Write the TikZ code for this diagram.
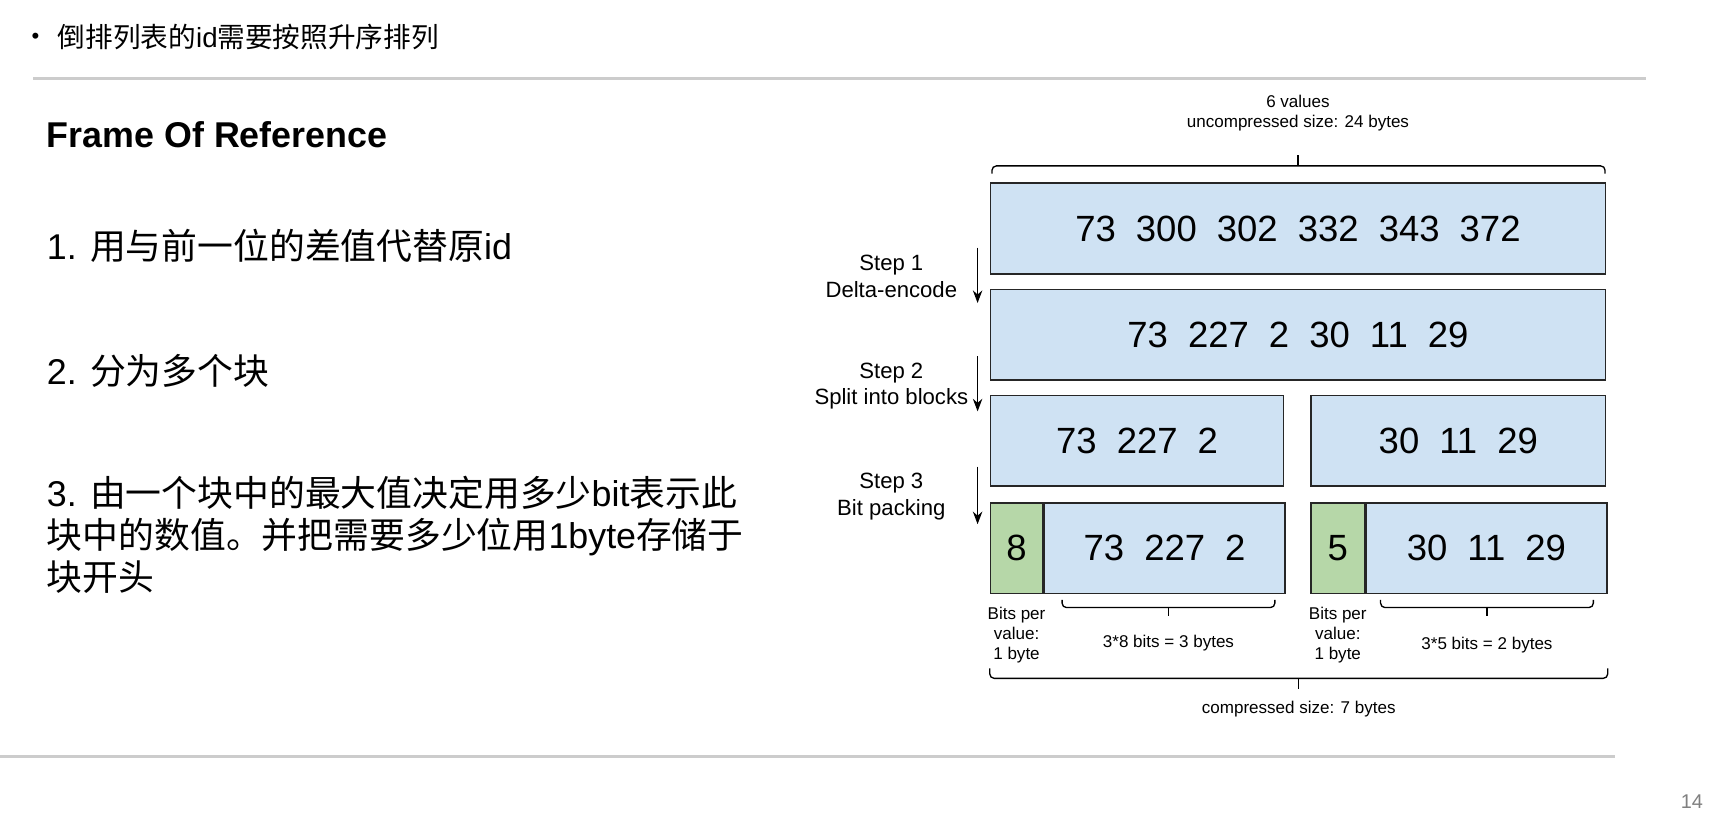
\documentclass[tikz,border=0pt]{standalone}
\usepackage{fontspec}
\setmainfont{Liberation Sans}
\newfontfamily\cjk{Noto Sans CJK SC}
\usetikzlibrary{arrows.meta,positioning,calc}

\definecolor{boxblue}{HTML}{CFE2F3}
\definecolor{boxgreen}{HTML}{B6D7A8}
\definecolor{rulegray}{HTML}{CCCCCC}
\newcommand\gap{\hspace{0.55em}}

\tikzset{
  valbox/.style={draw=black!85, line width=0.7pt, fill=boxblue, inner sep=0pt,
    minimum height=41pt, anchor=north west, font=\fontsize{16.5}{18}\selectfont},
  bitbox/.style={valbox, fill=boxgreen},
  steplbl/.style={align=center, font=\fontsize{10}{12}\selectfont},
  smalllbl/.style={align=center, font=\fontsize{7.7}{9}\selectfont},
  bracket/.style={line width=0.6pt, rounded corners=2pt},
  bodytxt/.style={anchor=west, align=left, inner sep=0pt, font=\fontsize{16.2}{19}\selectfont},
}

\begin{document}
\begin{tikzpicture}[x=0.5pt,y=-0.5pt,>=Stealth]
\useasboundingbox (0,0) rectangle (1568,741);
\fill[white] (0,0) rectangle (1568,741);

% slide text
\node[inner sep=0pt, font=\fontsize{10}{12}\selectfont] (bullet) at (32,35) {•};
\node[bodytxt, font=\fontsize{12.5}{14}\selectfont] (head) at (52,33) {{\cjk 倒排列表的}id{\cjk 需要按照升序排列}};
\draw[rulegray, line width=1pt] (30,71) -- (1488,71);
\node[bodytxt, font=\bfseries\fontsize{16.2}{19}\selectfont] (title) at (42,122) {Frame Of Reference};
\node[bodytxt] (item1) at (42,222) {1. {\cjk 用与前一位的差值代替原}id};
\node[bodytxt] (item2) at (42,335) {2. {\cjk 分为多个块}};
\node[bodytxt] (item3) at (42,484) {3. {\cjk 由一个块中的最大值决定用多少}bit{\cjk 表示此}\\
  {\cjk 块中的数值。并把需要多少位用}1byte{\cjk 存储于}\\
  {\cjk 块开头}};
\draw[rulegray, line width=1pt] (0,684) -- (1460,684);
\node[text=black!50, font=\fontsize{9}{10}\selectfont] (page) at (1530,725) {14};

% boxes
\node[valbox, minimum width=278pt] (raw) at (895,165) {73\gap 300\gap 302\gap 332\gap 343\gap 372};
\node[valbox, minimum width=278pt] (delta) at (895,261) {73\gap 227\gap 2\gap 30\gap 11\gap 29};
\node[valbox, minimum width=132.5pt] (blkA) at (895,357) {73\gap 227\gap 2};
\node[valbox, minimum width=133pt] (blkB) at (1185,357) {30\gap 11\gap 29};
\node[bitbox, minimum width=23.5pt] (bitsA) at (895,454) {8};
\node[valbox, minimum width=109pt, right=0pt of bitsA.north east, anchor=north west] (packA) {73\gap 227\gap 2};
\node[bitbox, minimum width=24pt] (bitsB) at (1185,454) {5};
\node[valbox, minimum width=109pt, right=0pt of bitsB.north east, anchor=north west] (packB) {30\gap 11\gap 29};

% steps
\coordinate (s1a) at (884,224); \coordinate (s1b) at (884,274);
\coordinate (s2a) at (884,322); \coordinate (s2b) at (884,372);
\coordinate (s3a) at (884,422); \coordinate (s3b) at (884,474);
\draw[->, line width=0.6pt] (s1a) -- (s1b);
\draw[->, line width=0.6pt] (s2a) -- (s2b);
\draw[->, line width=0.6pt] (s3a) -- (s3b);
\node[steplbl] (step1) at (806,250) {Step 1\\Delta-encode};
\node[steplbl] (step2) at (806,349) {Step 2\\Split into blocks};
\node[steplbl] (step3) at (806,449) {Step 3\\Bit packing};

% top bracket
\draw[bracket] ($(raw.north west)+(2,-8)$) -- ($(raw.north west)+(2,-15)$)
  -- ($(raw.north east)+(-1,-15)$) -- ($(raw.north east)+(-1,-8)$);
\draw[line width=0.6pt] ($(raw.north)+(0,-15)$) -- ($(raw.north)+(0,-25)$);
\node[smalllbl] (usize) at ($(raw.north)+(0,-63)$) {6 values\\uncompressed size: 24 bytes};

% brackets under packed blocks
\draw[bracket] ($(packA.south west)+(17,5)$) -- ($(packA.south west)+(17,12)$)
  -- ($(packA.south east)+(-10,12)$) -- ($(packA.south east)+(-10,5)$);
\coordinate (tA) at ($(packA.south west)!0.5!(packA.south east)+(3.5,12)$);
\draw[line width=0.6pt] (tA) -- ++(0,8);
\draw[bracket] ($(packB.south west)+(14,5)$) -- ($(packB.south west)+(14,12)$)
  -- ($(packB.south east)+(-13,12)$) -- ($(packB.south east)+(-13,5)$);
\coordinate (tB) at ($(packB.south west)!0.5!(packB.south east)+(0.5,12)$);
\draw[line width=0.6pt] (tB) -- ++(0,8);
\node[smalllbl] (sizeA) at ($(tA)+(0,32)$) {3*8 bits = 3 bytes};
\node[smalllbl] (sizeB) at ($(tB)+(0,34)$) {3*5 bits = 2 bytes};
\node[smalllbl] (bpvA) at ($(bitsA.south)+(0,37)$) {Bits per\\value:\\1 byte};
\node[smalllbl] (bpvB) at ($(bitsB.south)+(0,37)$) {Bits per\\value:\\1 byte};

% bottom bracket
\draw[bracket] ($(bitsA.south west)+(0,67)$) -- ($(bitsA.south west)+(0,76)$)
  -- ($(packB.south east)+(0,76)$) -- ($(packB.south east)+(0,67)$);
\coordinate (tC) at ($(bitsA.south west)!0.5!(packB.south east)+(0,76)$);
\draw[line width=0.6pt] (tC) -- ++(0,10);
\node[smalllbl] (csize) at ($(tC)+(0,28)$) {compressed size: 7 bytes};
\end{tikzpicture}
\end{document}
